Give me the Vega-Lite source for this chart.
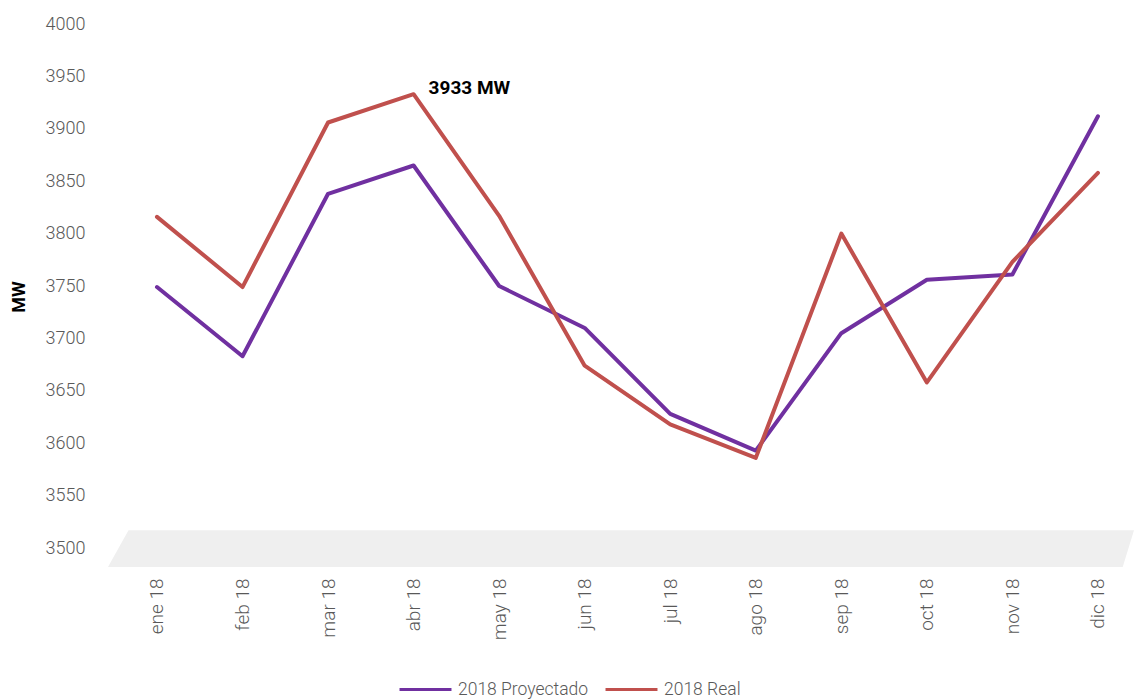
{
  "$schema": "https://vega.github.io/schema/vega-lite/v6.json",
  "width": 1026,
  "height": 545,
  "autosize": {"type": "none"},
  "padding": {"left": 108, "top": 24, "right": 0, "bottom": 131},
  "background": "white",
  "config": {
    "view": {"stroke": null},
    "font": "Roboto, sans-serif"
  },
  "datasets": {
    "serie": [
      {"mes": "ene 18", "serie": "2018 Proyectado", "mw": 3749},
      {"mes": "feb 18", "serie": "2018 Proyectado", "mw": 3683},
      {"mes": "mar 18", "serie": "2018 Proyectado", "mw": 3838},
      {"mes": "abr 18", "serie": "2018 Proyectado", "mw": 3865},
      {"mes": "may 18", "serie": "2018 Proyectado", "mw": 3750},
      {"mes": "jun 18", "serie": "2018 Proyectado", "mw": 3710},
      {"mes": "jul 18", "serie": "2018 Proyectado", "mw": 3628},
      {"mes": "ago 18", "serie": "2018 Proyectado", "mw": 3593},
      {"mes": "sep 18", "serie": "2018 Proyectado", "mw": 3705},
      {"mes": "oct 18", "serie": "2018 Proyectado", "mw": 3756},
      {"mes": "nov 18", "serie": "2018 Proyectado", "mw": 3761},
      {"mes": "dic 18", "serie": "2018 Proyectado", "mw": 3912},
      {"mes": "ene 18", "serie": "2018 Real", "mw": 3816},
      {"mes": "feb 18", "serie": "2018 Real", "mw": 3749},
      {"mes": "mar 18", "serie": "2018 Real", "mw": 3906},
      {"mes": "abr 18", "serie": "2018 Real", "mw": 3933, "etiqueta": "3933 MW"},
      {"mes": "may 18", "serie": "2018 Real", "mw": 3817},
      {"mes": "jun 18", "serie": "2018 Real", "mw": 3674},
      {"mes": "jul 18", "serie": "2018 Real", "mw": 3618},
      {"mes": "ago 18", "serie": "2018 Real", "mw": 3586},
      {"mes": "sep 18", "serie": "2018 Real", "mw": 3800},
      {"mes": "oct 18", "serie": "2018 Real", "mw": 3658},
      {"mes": "nov 18", "serie": "2018 Real", "mw": 3773},
      {"mes": "dic 18", "serie": "2018 Real", "mw": 3858}
    ],
    "piso": [
      {"fx": 0, "y1": 3482, "y2": 3482},
      {"fx": 0.02, "y1": 3482, "y2": 3517},
      {"fx": 0.989, "y1": 3482, "y2": 3517},
      {"fx": 1, "y1": 3517, "y2": 3517}
    ]
  },
  "layer": [
    {
      "data": {"name": "piso"},
      "mark": {"type": "area", "color": "#efefef", "interpolate": "linear", "orient": "vertical"},
      "encoding": {
        "x": {"field": "fx", "type": "quantitative", "scale": {"domain": [0, 1], "nice": false, "zero": false}, "axis": null},
        "y": {
          "field": "y1", "type": "quantitative",
          "scale": {"domain": [3480, 4000], "nice": false, "zero": false},
          "axis": {
            "title": "MW", "titleFontSize": 18, "titleFontWeight": "bold", "titleColor": "#000000",
            "titleFont": "Roboto, sans-serif",
            "titlePadding": 17, "format": "d",
            "values": [3500, 3550, 3600, 3650, 3700, 3750, 3800, 3850, 3900, 3950, 4000],
            "domain": false, "ticks": false, "grid": false,
            "labelFontSize": 18, "labelFontWeight": 300, "labelColor": "#595959", "labelPadding": 23,
            "labelFont": "Roboto, sans-serif"
          }
        },
        "y2": {"field": "y2"}
      }
    },
    {
      "data": {"name": "serie"},
      "layer": [
        {
          "mark": {"type": "line", "strokeWidth": 4, "strokeJoin": "round", "strokeCap": "round"},
          "encoding": {
            "x": {
              "field": "mes", "type": "nominal", "sort": null,
              "scale": {"type": "point", "padding": 0.497, "align": 0.576},
              "axis": {
                "title": null, "domain": false, "ticks": false, "grid": false,
                "labelAngle": -90, "labelFontSize": 19, "labelFontWeight": 300, "labelColor": "#595959",
                "labelPadding": 9, "labelFont": "Roboto, sans-serif"
              }
            },
            "y": {"field": "mw", "type": "quantitative"},
            "color": {
              "field": "serie", "type": "nominal",
              "scale": {"domain": ["2018 Proyectado", "2018 Real"], "range": ["#7030A0", "#C0504D"]},
              "legend": {
                "title": null, "orient": "none", "direction": "horizontal",
                "legendX": 290, "legendY": 638,
                "symbolType": "stroke", "symbolSize": 2700, "symbolStrokeWidth": 3,
                "labelFontSize": 17.5, "labelFontWeight": 300, "labelColor": "#595959", "labelOffset": 5,
                "labelFont": "Roboto, sans-serif",
                "columnPadding": 10
              }
            }
          }
        },
        {
          "transform": [{"filter": "isValid(datum.etiqueta)"}],
          "mark": {"type": "text", "align": "left", "baseline": "middle", "dx": 15, "dy": -6, "fontSize": 19, "fontWeight": "bold", "color": "#000000", "font": "Roboto, sans-serif"},
          "encoding": {
            "x": {"field": "mes", "type": "nominal", "sort": null},
            "y": {"field": "mw", "type": "quantitative"},
            "text": {"field": "etiqueta"}
          }
        }
      ]
    }
  ],
  "resolve": {"scale": {"x": "independent"}}
}
